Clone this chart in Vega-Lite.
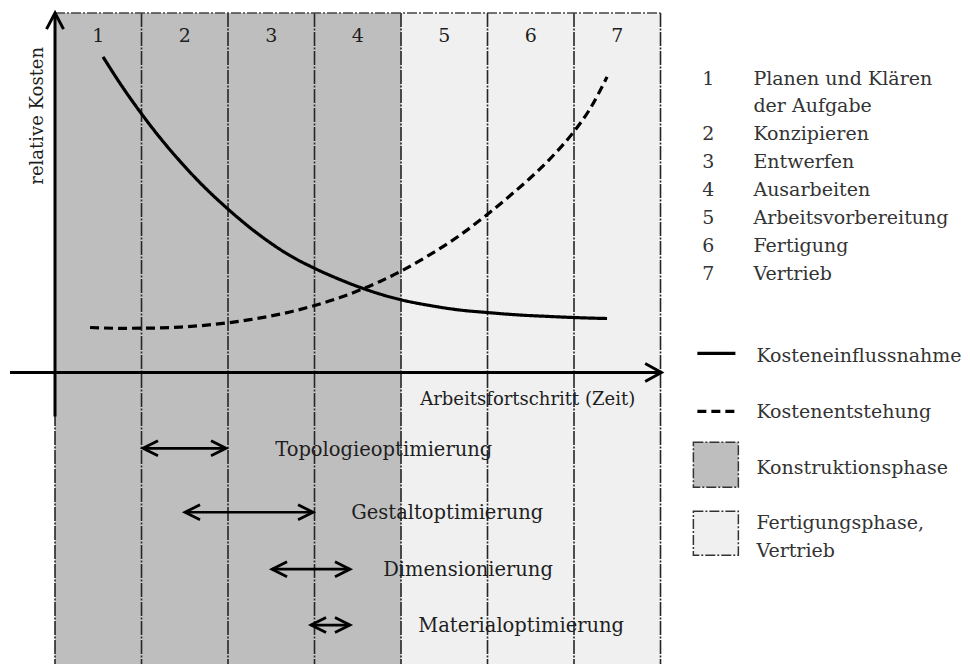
{
  "$schema": "https://vega.github.io/schema/vega-lite/v6.json",
  "width": 970,
  "height": 665,
  "autosize": {"type": "fit", "contains": "padding"},
  "padding": 0,
  "background": "white",
  "config": {"view": {"stroke": null}, "text": {"font": "DejaVu Serif"}},
  "datasets": {
    "phases": [
      {"phase": "1", "name": "Planen und Klären\nder Aufgabe", "x": 0, "x2": 1, "y": 10, "y2": -8.11, "mid": 0.5, "ny": 9.194, "ly": 8.0, "group": "Konstruktionsphase"},
      {"phase": "2", "name": "Konzipieren", "x": 1, "x2": 2, "y": 10, "y2": -8.11, "mid": 1.5, "ny": 9.194, "ly": 6.472, "group": "Konstruktionsphase"},
      {"phase": "3", "name": "Entwerfen", "x": 2, "x2": 3, "y": 10, "y2": -8.11, "mid": 2.5, "ny": 9.194, "ly": 5.694, "group": "Konstruktionsphase"},
      {"phase": "4", "name": "Ausarbeiten", "x": 3, "x2": 4, "y": 10, "y2": -8.11, "mid": 3.5, "ny": 9.194, "ly": 4.917, "group": "Konstruktionsphase"},
      {"phase": "5", "name": "Arbeitsvorbereitung", "x": 4, "x2": 5, "y": 10, "y2": -8.11, "mid": 4.5, "ny": 9.194, "ly": 4.139, "group": "Fertigungsphase, Vertrieb"},
      {"phase": "6", "name": "Fertigung", "x": 5, "x2": 6, "y": 10, "y2": -8.11, "mid": 5.5, "ny": 9.194, "ly": 3.361, "group": "Fertigungsphase, Vertrieb"},
      {"phase": "7", "name": "Vertrieb", "x": 6, "x2": 7, "y": 10, "y2": -8.11, "mid": 6.5, "ny": 9.194, "ly": 2.583, "group": "Fertigungsphase, Vertrieb"}
    ],
    "arrows": [
      {"task": "Topologieoptimierung", "x": 1.017, "x2": 1.977, "y": -2.111, "lx": 2.545, "ly": -2.333},
      {"task": "Gestaltoptimierung", "x": 1.503, "x2": 2.983, "y": -3.889, "lx": 3.424, "ly": -4.083},
      {"task": "Dimensionierung", "x": 2.509, "x2": 3.41, "y": -5.472, "lx": 3.794, "ly": -5.667},
      {"task": "Materialoptimierung", "x": 2.96, "x2": 3.41, "y": -7.028, "lx": 4.199, "ly": -7.222}
    ]
  },
  "encoding": {
    "x": {"field": "x", "type": "quantitative", "scale": {"domain": [-0.636, 10.578], "nice": false, "zero": false}, "axis": null},
    "y": {"field": "y", "type": "quantitative", "scale": {"domain": [-8.11, 10.36], "nice": false, "zero": false}, "axis": null}
  },
  "layer": [
    {
      "data": {"name": "phases"},
      "mark": {"type": "rect"},
      "encoding": {
        "x2": {"field": "x2"},
        "y2": {"field": "y2"},
        "color": {"field": "group", "type": "nominal", "scale": {"domain": ["Konstruktionsphase", "Fertigungsphase, Vertrieb"], "range": ["#bebebe", "#f0f0f0"]}, "legend": null}
      }
    },
    {
      "data": {"values": [
        {"x": 0, "y": 10, "y2": -8.11}, {"x": 1, "y": 10, "y2": -8.11}, {"x": 2, "y": 10, "y2": -8.11}, {"x": 3, "y": 10, "y2": -8.11},
        {"x": 4, "y": 10, "y2": -8.11}, {"x": 5, "y": 10, "y2": -8.11}, {"x": 6, "y": 10, "y2": -8.11}, {"x": 7, "y": 10, "y2": -8.11}
      ]},
      "mark": {"type": "rule", "color": "#262626", "strokeWidth": 1.6, "strokeDash": [14, 1.5, 2, 1.5]},
      "encoding": {"y2": {"field": "y2"}}
    },
    {
      "data": {"values": [{"x": 0, "x2": 7, "y": 10}]},
      "mark": {"type": "rule", "color": "#444444", "strokeWidth": 1.5, "strokeDash": [10, 2, 2, 2]},
      "encoding": {"x2": {"field": "x2"}}
    },
    {
      "data": {"values": [{"axis": "x", "x": -0.52, "x2": 7.0, "y": 0, "y2": 0}, {"axis": "y", "x": 0, "x2": 0, "y": -1.222, "y2": 9.97}]},
      "mark": {"type": "rule", "color": "black", "strokeWidth": 3},
      "encoding": {"x2": {"field": "x2"}, "y2": {"field": "y2"}}
    },
    {
      "data": {"values": [{"x": 7.01, "y": 0}]},
      "mark": {"type": "point", "shape": "M-1.8,-1L0,0L-1.8,1", "size": 324, "filled": false, "color": "black", "strokeWidth": 3, "opacity": 1, "strokeJoin": "miter"}
    },
    {
      "data": {"values": [{"x": 0, "y": 10.0}]},
      "mark": {"type": "point", "shape": "M-1,1.9L0,0L1,1.9", "size": 289, "filled": false, "color": "black", "strokeWidth": 3, "opacity": 1, "strokeJoin": "miter"}
    },
    {
      "data": {"values": [
        {"series": "Kosteneinflussnahme", "x": 0.555, "y": 8.778},
        {"series": "Kosteneinflussnahme", "x": 0.751, "y": 8.044},
        {"series": "Kosteneinflussnahme", "x": 0.983, "y": 7.25},
        {"series": "Kosteneinflussnahme", "x": 1.214, "y": 6.528},
        {"series": "Kosteneinflussnahme", "x": 1.445, "y": 5.875},
        {"series": "Kosteneinflussnahme", "x": 1.676, "y": 5.278},
        {"series": "Kosteneinflussnahme", "x": 1.988, "y": 4.569},
        {"series": "Kosteneinflussnahme", "x": 2.254, "y": 4.028},
        {"series": "Kosteneinflussnahme", "x": 2.486, "y": 3.611},
        {"series": "Kosteneinflussnahme", "x": 2.717, "y": 3.25},
        {"series": "Kosteneinflussnahme", "x": 2.983, "y": 2.917},
        {"series": "Kosteneinflussnahme", "x": 3.295, "y": 2.583},
        {"series": "Kosteneinflussnahme", "x": 3.549, "y": 2.347},
        {"series": "Kosteneinflussnahme", "x": 3.757, "y": 2.181},
        {"series": "Kosteneinflussnahme", "x": 3.988, "y": 2.028},
        {"series": "Kosteneinflussnahme", "x": 4.335, "y": 1.861},
        {"series": "Kosteneinflussnahme", "x": 4.682, "y": 1.736},
        {"series": "Kosteneinflussnahme", "x": 4.994, "y": 1.667},
        {"series": "Kosteneinflussnahme", "x": 5.376, "y": 1.597},
        {"series": "Kosteneinflussnahme", "x": 5.723, "y": 1.556},
        {"series": "Kosteneinflussnahme", "x": 5.988, "y": 1.528},
        {"series": "Kosteneinflussnahme", "x": 6.382, "y": 1.5},
        {"series": "Kostenentstehung", "x": 0.405, "y": 1.25},
        {"series": "Kostenentstehung", "x": 0.751, "y": 1.228},
        {"series": "Kostenentstehung", "x": 1.098, "y": 1.233},
        {"series": "Kostenentstehung", "x": 1.445, "y": 1.261},
        {"series": "Kostenentstehung", "x": 1.676, "y": 1.3},
        {"series": "Kostenentstehung", "x": 1.988, "y": 1.378},
        {"series": "Kostenentstehung", "x": 2.254, "y": 1.469},
        {"series": "Kostenentstehung", "x": 2.486, "y": 1.567},
        {"series": "Kostenentstehung", "x": 2.717, "y": 1.683},
        {"series": "Kostenentstehung", "x": 2.983, "y": 1.85},
        {"series": "Kostenentstehung", "x": 3.295, "y": 2.083},
        {"series": "Kostenentstehung", "x": 3.549, "y": 2.317},
        {"series": "Kostenentstehung", "x": 3.757, "y": 2.531},
        {"series": "Kostenentstehung", "x": 3.988, "y": 2.803},
        {"series": "Kostenentstehung", "x": 4.335, "y": 3.278},
        {"series": "Kostenentstehung", "x": 4.682, "y": 3.819},
        {"series": "Kostenentstehung", "x": 4.994, "y": 4.389},
        {"series": "Kostenentstehung", "x": 5.26, "y": 4.917},
        {"series": "Kostenentstehung", "x": 5.491, "y": 5.403},
        {"series": "Kostenentstehung", "x": 5.757, "y": 6.028},
        {"series": "Kostenentstehung", "x": 5.988, "y": 6.667},
        {"series": "Kostenentstehung", "x": 6.185, "y": 7.333},
        {"series": "Kostenentstehung", "x": 6.382, "y": 8.222}
      ]},
      "mark": {"type": "line", "color": "black", "strokeWidth": 3.2, "interpolate": "monotone"},
      "encoding": {
        "detail": {"field": "series", "type": "nominal"},
        "strokeDash": {"field": "series", "type": "nominal", "scale": {"domain": ["Kosteneinflussnahme", "Kostenentstehung"], "range": [[1, 0], [9, 5]]}, "legend": null}
      }
    },
    {
      "data": {"name": "arrows"},
      "mark": {"type": "rule", "color": "black", "strokeWidth": 2.6},
      "encoding": {"x2": {"field": "x2"}}
    },
    {
      "data": {"name": "arrows"},
      "mark": {"type": "point", "shape": "M2,-1L0,0L2,1", "size": 225, "filled": false, "color": "black", "strokeWidth": 2.8, "opacity": 1, "strokeJoin": "miter"}
    },
    {
      "data": {"name": "arrows"},
      "mark": {"type": "point", "shape": "M-2,-1L0,0L-2,1", "size": 225, "filled": false, "color": "black", "strokeWidth": 2.8, "opacity": 1, "strokeJoin": "miter"},
      "encoding": {"x": {"field": "x2", "type": "quantitative"}}
    },
    {
      "data": {"name": "arrows"},
      "mark": {"type": "text", "align": "left", "baseline": "alphabetic", "fontSize": 19.5, "color": "#1e1e1e"},
      "encoding": {"x": {"field": "lx", "type": "quantitative"}, "y": {"field": "ly", "type": "quantitative"}, "text": {"field": "task"}}
    },
    {
      "data": {"name": "phases"},
      "mark": {"type": "text", "align": "center", "baseline": "alphabetic", "fontSize": 19, "color": "#1e1e1e"},
      "encoding": {"x": {"field": "mid", "type": "quantitative"}, "y": {"field": "ny", "type": "quantitative"}, "text": {"field": "phase"}}
    },
    {
      "data": {"values": [{"label": "relative Kosten", "x": -0.139, "y": 7.139}]},
      "mark": {"type": "text", "align": "center", "baseline": "alphabetic", "angle": 270, "fontSize": 18, "color": "#1e1e1e"},
      "encoding": {"text": {"field": "label"}}
    },
    {
      "data": {"values": [{"label": "Arbeitsfortschritt (Zeit)", "x": 4.222, "y": -0.917}]},
      "mark": {"type": "text", "align": "left", "baseline": "alphabetic", "fontSize": 18, "color": "#1e1e1e"},
      "encoding": {"text": {"field": "label"}}
    },
    {
      "data": {"name": "phases"},
      "mark": {"type": "text", "align": "center", "baseline": "alphabetic", "fontSize": 19, "color": "#333333"},
      "encoding": {"x": {"datum": 7.553}, "y": {"field": "ly", "type": "quantitative"}, "text": {"field": "phase"}}
    },
    {
      "data": {"name": "phases"},
      "mark": {"type": "text", "align": "left", "baseline": "alphabetic", "fontSize": 19, "color": "#333333", "lineBreak": "\n", "lineHeight": 27},
      "encoding": {"x": {"datum": 8.074}, "y": {"field": "ly", "type": "quantitative"}, "text": {"field": "name"}}
    },
    {
      "data": {"values": [
        {"series": "Kosteneinflussnahme", "x": 7.426, "x2": 7.866, "y": 0.528},
        {"series": "Kostenentstehung", "x": 7.426, "x2": 7.866, "y": -1.083}
      ]},
      "mark": {"type": "rule", "color": "black", "strokeWidth": 3.2},
      "encoding": {
        "x2": {"field": "x2"},
        "strokeDash": {"field": "series", "type": "nominal", "legend": null}
      }
    },
    {
      "data": {"values": [
        {"group": "Konstruktionsphase", "x": 7.38, "x2": 7.9, "y": -1.944, "y2": -3.194},
        {"group": "Fertigungsphase, Vertrieb", "x": 7.38, "x2": 7.9, "y": -3.861, "y2": -5.083}
      ]},
      "mark": {"type": "rect", "stroke": "#333333", "strokeWidth": 1.5, "strokeDash": [10, 2, 2, 2]},
      "encoding": {
        "x2": {"field": "x2"},
        "y2": {"field": "y2"},
        "color": {"field": "group", "type": "nominal", "legend": null}
      }
    },
    {
      "data": {"values": [
        {"label": "Kosteneinflussnahme", "x": 8.109, "y": 0.278},
        {"label": "Kostenentstehung", "x": 8.109, "y": -1.278},
        {"label": "Konstruktionsphase", "x": 8.109, "y": -2.833},
        {"label": "Fertigungsphase,", "x": 8.109, "y": -4.361},
        {"label": "Vertrieb", "x": 8.109, "y": -5.139}
      ]},
      "mark": {"type": "text", "align": "left", "baseline": "alphabetic", "fontSize": 19, "color": "#333333"},
      "encoding": {"text": {"field": "label"}}
    }
  ]
}
